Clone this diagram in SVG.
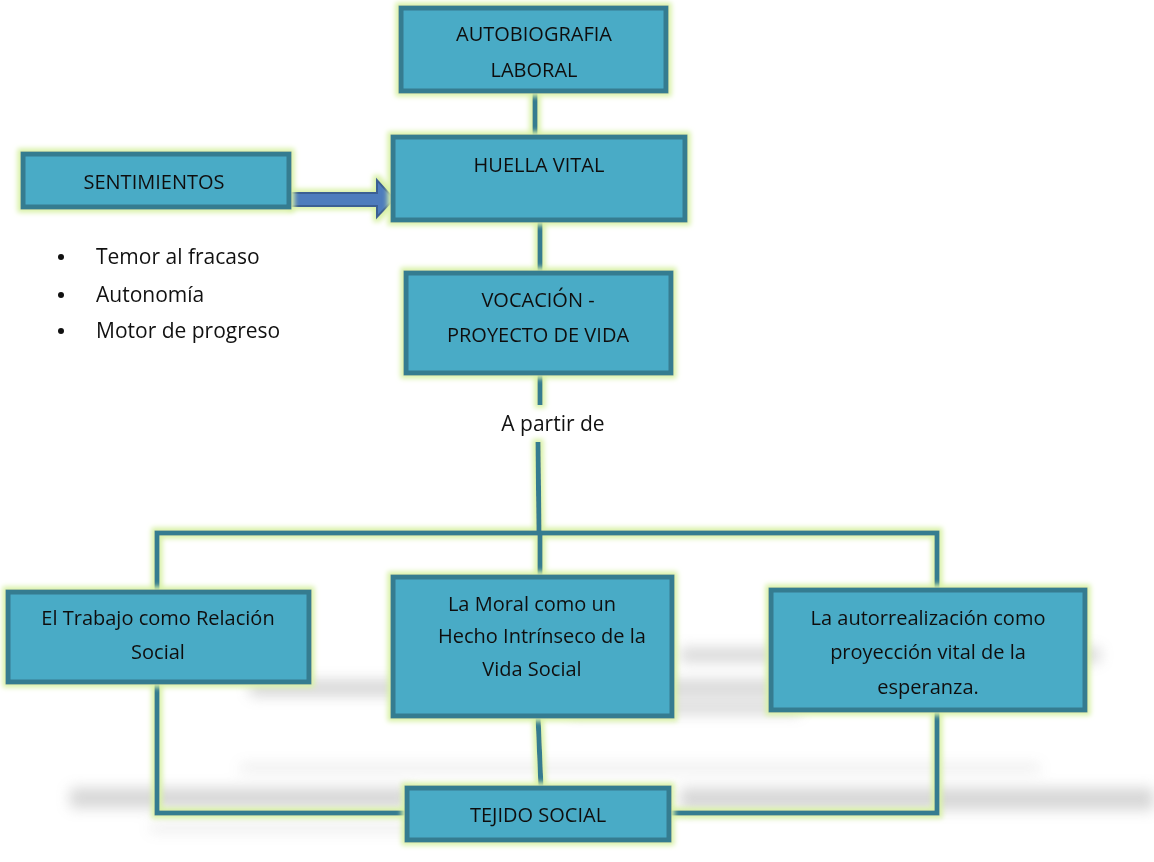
<svg xmlns="http://www.w3.org/2000/svg" width="1154" height="862" viewBox="0 0 1154 862">
<defs>
<filter id="glow" x="-10%" y="-20%" width="120%" height="140%">
<feMorphology in="SourceAlpha" operator="dilate" radius="3" result="d"/>
<feGaussianBlur in="d" stdDeviation="2.5" result="b"/>
<feFlood flood-color="#d8f1a6" result="c"/>
<feComposite in="c" in2="b" operator="in" result="g"/>
<feMerge><feMergeNode in="g"/><feMergeNode in="SourceGraphic"/></feMerge>
</filter>
<filter id="blur" x="-20%" y="-200%" width="140%" height="500%"><feGaussianBlur stdDeviation="7"/></filter>
<style>
.box{fill:#4aabc6;stroke:#347b90;stroke-width:5}
.ln{fill:none;stroke:#347b90;stroke-width:5}
.t{font-family:"Open Sans","Noto Sans",sans-serif;font-size:20px;fill:#111;text-anchor:middle}
.tl{font-family:"Open Sans","Noto Sans",sans-serif;font-size:21px;fill:#111}
.sh{fill:#8c8c8c}
</style>
</defs>
<g id="shadows" filter="url(#blur)" opacity="0.35">
<rect class="sh" x="250" y="680" width="540" height="16"/>
<rect class="sh" x="680" y="648" width="420" height="14"/>
<rect class="sh" x="570" y="702" width="230" height="12"/>
<rect class="sh" x="70" y="788" width="340" height="20"/>
<rect class="sh" x="680" y="788" width="474" height="22"/>
<rect class="sh" x="150" y="824" width="300" height="8" opacity="0.5"/>
<rect class="sh" x="240" y="764" width="800" height="8" opacity="0.5"/>
</g>
<g id="connectors" filter="url(#glow)">
<line class="ln" x1="535" y1="91" x2="535" y2="137"/>
<line class="ln" x1="540" y1="220" x2="540" y2="273"/>
<line class="ln" x1="540" y1="373" x2="540" y2="405"/>
<line class="ln" x1="538" y1="442" x2="539" y2="533"/>
<polyline class="ln" points="157,592 157,533 937,533 937,590"/>
<line class="ln" x1="540" y1="533" x2="540" y2="577"/>
<polyline class="ln" points="157,682 157,813 407,813"/>
<polyline class="ln" points="937,710 937,813 669,813"/>
<line class="ln" x1="538" y1="716" x2="541" y2="788"/>
<path d="M291,193 L377,193 L377,180 L394,199 L377,217 L377,206 L291,206 Z" fill="#4d7cbd" stroke="#3a5f93" stroke-width="2"/>
</g>
<g id="autobiografia" filter="url(#glow)">
<rect class="box" x="401" y="8" width="265" height="83"/>
<text class="t" x="534" y="41">AUTOBIOGRAFIA</text>
<text class="t" x="534" y="77">LABORAL</text>
</g>
<g id="huella" filter="url(#glow)">
<rect class="box" x="393" y="137" width="292" height="83"/>
<text class="t" x="539" y="172">HUELLA VITAL</text>
</g>
<g id="sentimientos" filter="url(#glow)">
<rect class="box" x="23" y="154" width="266" height="53"/>
<text class="t" x="154" y="189">SENTIMIENTOS</text>
</g>
<g id="lista">
<circle cx="61" cy="257" r="3" fill="#111"/>
<circle cx="61" cy="295" r="3" fill="#111"/>
<circle cx="61" cy="331" r="3" fill="#111"/>
<text class="tl" x="96" y="264">Temor al fracaso</text>
<text class="tl" x="96" y="302">Autonomía</text>
<text class="tl" x="96" y="338">Motor de progreso</text>
</g>
<g id="vocacion" filter="url(#glow)">
<rect class="box" x="406" y="273" width="265" height="100"/>
<text class="t" x="538" y="307">VOCACIÓN -</text>
<text class="t" x="538" y="342">PROYECTO DE VIDA</text>
</g>
<g id="apartir">
<text class="tl" x="553" y="431" text-anchor="middle">A partir de</text>
</g>
<g id="trabajo" filter="url(#glow)">
<rect class="box" x="8" y="592" width="301" height="90"/>
<text class="t" x="158" y="625">El Trabajo como  Relación</text>
<text class="t" x="158" y="659">Social</text>
</g>
<g id="moral" filter="url(#glow)">
<rect class="box" x="393" y="577" width="279" height="139"/>
<text class="t" x="532" y="611">La Moral como  un</text>
<text class="t" x="542" y="643">Hecho  Intrínseco de la</text>
<text class="t" x="532" y="676">Vida Social</text>
</g>
<g id="autorrealizacion" filter="url(#glow)">
<rect class="box" x="771" y="590" width="314" height="120"/>
<text class="t" x="928" y="625">La autorrealización  como</text>
<text class="t" x="928" y="659">proyección  vital de la</text>
<text class="t" x="928" y="694">esperanza.</text>
</g>
<g id="tejido" filter="url(#glow)">
<rect class="box" x="407" y="788" width="262" height="52"/>
<text class="t" x="538" y="822">TEJIDO SOCIAL</text>
</g>
</svg>
